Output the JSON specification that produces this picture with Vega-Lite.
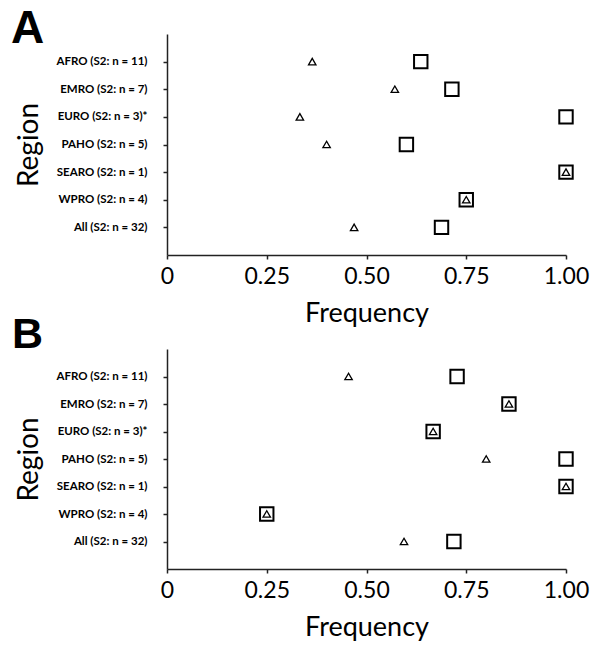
{
  "$schema": "https://vega.github.io/schema/vega-lite/v6.json",
  "background": "white",
  "padding": {"left": 11, "top": 6, "right": 5, "bottom": 5},
  "spacing": -12,
  "config": {
    "view": {"stroke": null},
    "font": "Lato",
    "axis": {
      "grid": false,
      "domainColor": "#222222",
      "tickColor": "#222222",
      "domainWidth": 1.5,
      "tickWidth": 1.5,
      "labelColor": "black",
      "titleColor": "black",
      "labelFont": "Lato",
      "titleFont": "Lato",
      "titleFontWeight": "normal"
    }
  },
  "datasets": {
    "d": [
      {"panel": "A", "region": "AFRO (S2: n = 11)", "measure": "square", "value": 0.636},
      {"panel": "A", "region": "EMRO (S2: n = 7)", "measure": "square", "value": 0.714},
      {"panel": "A", "region": "EURO (S2: n = 3)*", "measure": "square", "value": 1.0},
      {"panel": "A", "region": "PAHO (S2: n = 5)", "measure": "square", "value": 0.6},
      {"panel": "A", "region": "SEARO (S2: n = 1)", "measure": "square", "value": 1.0},
      {"panel": "A", "region": "WPRO (S2: n = 4)", "measure": "square", "value": 0.75},
      {"panel": "A", "region": "All (S2: n = 32)", "measure": "square", "value": 0.688},
      {"panel": "A", "region": "AFRO (S2: n = 11)", "measure": "triangle", "value": 0.364},
      {"panel": "A", "region": "EMRO (S2: n = 7)", "measure": "triangle", "value": 0.571},
      {"panel": "A", "region": "EURO (S2: n = 3)*", "measure": "triangle", "value": 0.333},
      {"panel": "A", "region": "PAHO (S2: n = 5)", "measure": "triangle", "value": 0.4},
      {"panel": "A", "region": "SEARO (S2: n = 1)", "measure": "triangle", "value": 1.0},
      {"panel": "A", "region": "WPRO (S2: n = 4)", "measure": "triangle", "value": 0.75},
      {"panel": "A", "region": "All (S2: n = 32)", "measure": "triangle", "value": 0.469},
      {"panel": "B", "region": "AFRO (S2: n = 11)", "measure": "square", "value": 0.727},
      {"panel": "B", "region": "EMRO (S2: n = 7)", "measure": "square", "value": 0.857},
      {"panel": "B", "region": "EURO (S2: n = 3)*", "measure": "square", "value": 0.667},
      {"panel": "B", "region": "PAHO (S2: n = 5)", "measure": "square", "value": 1.0},
      {"panel": "B", "region": "SEARO (S2: n = 1)", "measure": "square", "value": 1.0},
      {"panel": "B", "region": "WPRO (S2: n = 4)", "measure": "square", "value": 0.25},
      {"panel": "B", "region": "All (S2: n = 32)", "measure": "square", "value": 0.719},
      {"panel": "B", "region": "AFRO (S2: n = 11)", "measure": "triangle", "value": 0.455},
      {"panel": "B", "region": "EMRO (S2: n = 7)", "measure": "triangle", "value": 0.857},
      {"panel": "B", "region": "EURO (S2: n = 3)*", "measure": "triangle", "value": 0.667},
      {"panel": "B", "region": "PAHO (S2: n = 5)", "measure": "triangle", "value": 0.8},
      {"panel": "B", "region": "SEARO (S2: n = 1)", "measure": "triangle", "value": 1.0},
      {"panel": "B", "region": "WPRO (S2: n = 4)", "measure": "triangle", "value": 0.25},
      {"panel": "B", "region": "All (S2: n = 32)", "measure": "triangle", "value": 0.594}
    ]
  },
  "vconcat": [
    {
      "width": 399,
      "height": 221,
      "title": {"text": "A", "anchor": "start", "frame": "group", "font": "Liberation Sans", "fontSize": 46, "fontWeight": "bold", "color": "black", "dx": -156, "dy": 19, "offset": 0},
      "data": {"name": "d"},
      "transform": [{"filter": "datum.panel == 'A'"}],
      "encoding": {
        "x": {"field": "value", "type": "quantitative", "scale": {"domain": [0, 1]},
          "axis": {"values": [0, 0.25, 0.5, 0.75, 1], "labelExpr": "datum.value == 0 ? '0' : format(datum.value, '.2f')", "labelFontSize": 23, "title": "Frequency", "titleFontSize": 27, "tickSize": 4, "labelPadding": 6, "titlePadding": 12, "labelFlush": false}},
        "y": {"field": "region", "type": "ordinal", "sort": ["AFRO (S2: n = 11)", "EMRO (S2: n = 7)", "EURO (S2: n = 3)*", "PAHO (S2: n = 5)", "SEARO (S2: n = 1)", "WPRO (S2: n = 4)", "All (S2: n = 32)"],
          "scale": {"type": "point", "padding": 1},
          "axis": {"title": "Region", "titleFontSize": 28, "labelFontSize": 11.5, "labelFontWeight": "bold", "tickSize": 4, "labelPadding": 16, "titlePadding": 13}}
      },
      "layer": [
        {"transform": [{"filter": "datum.measure == 'square'"}], "mark": {"type": "point", "shape": "square", "size": 180, "stroke": "black", "strokeWidth": 2, "filled": false, "opacity": 1}},
        {"transform": [{"filter": "datum.measure == 'triangle'"}], "mark": {"type": "point", "shape": "triangle-up", "size": 55, "stroke": "black", "strokeWidth": 1.3, "filled": false, "opacity": 1}}
      ]
    },
    {
      "width": 399,
      "height": 220,
      "title": {"text": "B", "anchor": "start", "frame": "group", "font": "Liberation Sans", "fontSize": 43, "fontWeight": "bold", "color": "black", "dx": -155, "dy": 8, "offset": 0},
      "data": {"name": "d"},
      "transform": [{"filter": "datum.panel == 'B'"}],
      "encoding": {
        "x": {"field": "value", "type": "quantitative", "scale": {"domain": [0, 1]},
          "axis": {"values": [0, 0.25, 0.5, 0.75, 1], "labelExpr": "datum.value == 0 ? '0' : format(datum.value, '.2f')", "labelFontSize": 23, "title": "Frequency", "titleFontSize": 27, "tickSize": 4, "labelPadding": 6, "titlePadding": 12, "labelFlush": false}},
        "y": {"field": "region", "type": "ordinal", "sort": ["AFRO (S2: n = 11)", "EMRO (S2: n = 7)", "EURO (S2: n = 3)*", "PAHO (S2: n = 5)", "SEARO (S2: n = 1)", "WPRO (S2: n = 4)", "All (S2: n = 32)"],
          "scale": {"type": "point", "padding": 1},
          "axis": {"title": "Region", "titleFontSize": 28, "labelFontSize": 11.5, "labelFontWeight": "bold", "tickSize": 4, "labelPadding": 16, "titlePadding": 13}}
      },
      "layer": [
        {"transform": [{"filter": "datum.measure == 'square'"}], "mark": {"type": "point", "shape": "square", "size": 180, "stroke": "black", "strokeWidth": 2, "filled": false, "opacity": 1}},
        {"transform": [{"filter": "datum.measure == 'triangle'"}], "mark": {"type": "point", "shape": "triangle-up", "size": 55, "stroke": "black", "strokeWidth": 1.3, "filled": false, "opacity": 1}}
      ]
    }
  ]
}
